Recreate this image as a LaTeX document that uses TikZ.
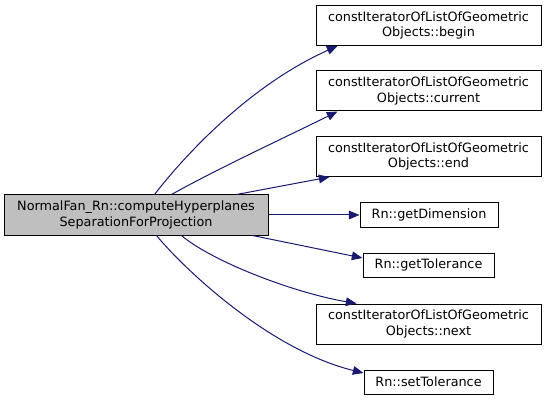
\documentclass[tikz,border=0pt]{standalone}
\usepackage{fontspec}
\setmainfont{DejaVu Sans}
\usepackage{tikz}
\usetikzlibrary{arrows.meta}
\definecolor{edgeblue}{HTML}{191970}
\definecolor{callergray}{HTML}{BFBFBF}

\begin{document}
\begin{tikzpicture}[
  x=0.75pt, y=-0.75pt,
  func/.style={rectangle, draw=black, line width=0.75pt, inner sep=0pt, align=center, font=\fontsize{9.6}{11.5}\selectfont},
  longfunc/.style={func, minimum width=168.75pt, minimum height=30pt},
  shortfunc/.style={func, minimum height=18pt},
  call/.style={draw=edgeblue, line width=0.75pt, -{Triangle[length=8pt, width=6.5pt]}, fill=none}
]
  \useasboundingbox (0,0) rectangle (548,402);

  % Caller
  \node[func, fill=callergray, minimum width=198pt, minimum height=30pt] (caller) at (136,215)
    {NormalFan\_Rn::computeHyperplanes\\SeparationForProjection};

  % Callees
  \node[longfunc] (begin) at (428.5,25.5) {constIteratorOfListOfGeometric\\Objects::begin};
  \node[longfunc] (current) at (428.5,91) {constIteratorOfListOfGeometric\\Objects::current};
  \node[longfunc] (end) at (428.5,156.5) {constIteratorOfListOfGeometric\\Objects::end};
  \node[shortfunc, minimum width=103.5pt] (getdim) at (429,215) {Rn::getDimension};
  \node[shortfunc, minimum width=98.25pt] (gettol) at (428.5,265) {Rn::getTolerance};
  \node[longfunc] (next) at (428.5,324) {constIteratorOfListOfGeometric\\Objects::next};
  \node[shortfunc, minimum width=96.75pt] (settol) at (428.5,382) {Rn::setTolerance};

  % Calls
  \draw[call] ([xshift=113.25pt]caller.north west) .. controls (185,155) and (250,85) .. ([xshift=16.5pt]begin.south west);
  \draw[call] ([xshift=126pt]caller.north west) .. controls (215,170) and (290,135) .. ([xshift=16.5pt]current.south west);
  \draw[call] ([xshift=174.75pt]caller.north west) -- ([xshift=10.5pt]end.south west);
  \draw[call] (caller.east) -- (getdim.west);
  \draw[call] ([xshift=186.75pt]caller.south west) -- ([yshift=5.25pt]gettol.west);
  \draw[call] ([xshift=133.5pt]caller.south west) .. controls (210,260) and (290,292) .. ([xshift=30.75pt]next.north west);
  \draw[call] ([xshift=114.75pt]caller.south west) .. controls (185,270) and (270,350) .. ([yshift=6.75pt]settol.west);
\end{tikzpicture}
\end{document}
